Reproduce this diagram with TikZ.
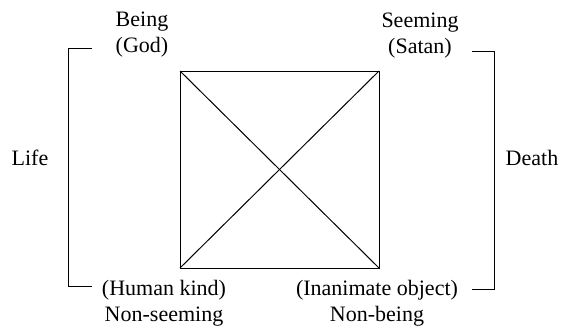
\documentclass[tikz,border=0pt]{standalone}
\usepackage{fontspec}
\setmainfont{Liberation Serif}
\begin{document}
\begin{tikzpicture}[x=1pt,y=-1pt,
  lbl/.style={align=center,inner sep=0pt,font=\fontsize{22}{26}\selectfont},
  ln/.style={line width=1pt}]
\useasboundingbox (0,0) rectangle (569,327);
% square corners
\coordinate (tl) at (180,71);
\coordinate (tr) at (379,71);
\coordinate (bl) at (180,268);
\coordinate (br) at (379,268);
\draw[ln] (tl) -- (tr) -- (br) -- (bl) -- cycle;
\draw[ln] (tl) -- (br);
\draw[ln] (tr) -- (bl);
% labels
\node[lbl] (being) at (142,35) {Being\\(God)};
\node[lbl] (seeming) at (420,36) {Seeming\\(Satan)};
\node[lbl] (human) at (164,303) {(Human kind)\\Non-seeming};
\node[lbl] (inanimate) at (377,303) {(Inanimate object)\\Non-being};
\node[lbl] (life) at (30,158) {Life};
\node[lbl] (death) at (532,158) {Death};
% brackets
\coordinate (la) at (92,48);
\coordinate (lb) at (92,286);
\coordinate (ra) at (472,51);
\coordinate (rb) at (472,289);
\draw[ln] (la) -- (68,48) -- (68,286) -- (lb);
\draw[ln] (ra) -- (494,51) -- (494,289) -- (rb);
\end{tikzpicture}
\end{document}
